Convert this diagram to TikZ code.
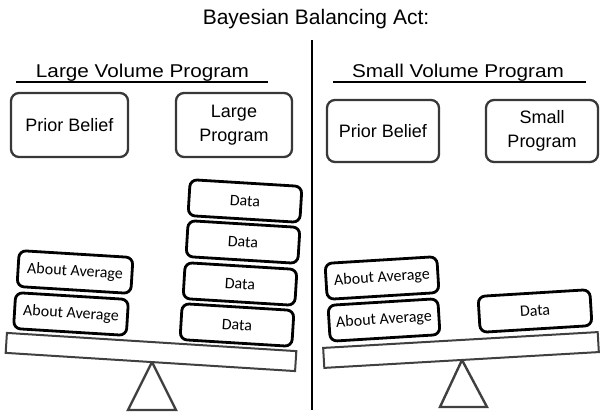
\documentclass[tikz,border=0pt]{standalone}
\usepackage{fontspec}
\setmainfont{Liberation Sans}
\newfontfamily\calib{Carlito}
\newfontfamily\headfont[FakeStretch=1.12]{Liberation Sans}
\tikzset{tb/.append style={draw=black!78, line width=2.3pt, rounded corners=8pt, align=center, font=\fontsize{18}{24}\selectfont, inner sep=0pt},
         wb/.append style={draw=black, line width=2.8pt, rounded corners=7pt, minimum width=112pt, minimum height=36pt, font=\calib\fontsize{16}{19}\selectfont, inner sep=0pt, fill=white},
         bm/.append style={draw=black!75, line width=2pt, minimum height=20pt, inner sep=0pt, fill=white},
         fl/.append style={draw=black!75, line width=2.4pt, line join=miter}}

\begin{document}
\begin{tikzpicture}[x=1pt,y=-1pt]
                \useasboundingbox (0,0) rectangle (600,414);
                % title and divider
                \node[anchor=base, font=\fontsize{21}{25}\selectfont] (title) at (316,25) {Bayesian Balancing Act:};
                \draw[line width=1.6pt] (312,40) -- (312,410);
                % headings
                \node[anchor=base, font=\headfont\fontsize{18.5}{22}\selectfont] (lvp) at (142.5,78) {Large Volume Program};
                \node[anchor=base, font=\headfont\fontsize{18.5}{22}\selectfont] (svp) at (458,78) {Small Volume Program};
                \draw[line width=1.4pt] (16,82) -- (268,82);
                \draw[line width=1.4pt] (333,82) -- (586,82);
                % top boxes
                \node[tb, minimum width=117pt, minimum height=64pt] (pbl) at (69.5,125) {Prior Belief};
                \node[tb, minimum width=116pt, minimum height=64pt] (lp) at (234,125) {Large\\Program};
                \node[tb, minimum width=112pt, minimum height=62pt] (pbr) at (383,131) {Prior Belief};
                \node[tb, minimum width=112pt, minimum height=62pt] (sp) at (542,131) {Small\\Program};
                % left balance
                \draw[fl] (152,362) -- (176,410) -- (128,410) -- cycle;
                \node[bm, minimum width=290pt, rotate=-3.6] (beaml) at (151,352) {};
                \node[wb, rotate=-3.5, minimum width=113pt] (aal) at (71,314) {About Average};
                \node[wb, rotate=-3.5, minimum width=114pt] (aau) at (75,272) {About Average};
                \node[wb, rotate=-3.5] (da) at (237,325) {Data};
                \node[wb, rotate=-3.5] (db) at (240,284) {Data};
                \node[wb, rotate=-3.5] (dc) at (243,242) {Data};
                \node[wb, rotate=-3.5] (dd) at (245,201) {Data};
                % right balance
                \draw[fl] (462,360) -- (487,407) -- (440,407) -- cycle;
                \node[bm, minimum width=275pt, rotate=3.3] (beamr) at (461,350) {};
                \node[wb, rotate=3.5, minimum width=110pt] (aarl) at (384,320) {About Average};
                \node[wb, rotate=3.5, minimum width=112pt] (aaru) at (382,278) {About Average};
                \node[wb, rotate=3.5, minimum width=112pt] (dr) at (535,311) {Data};
            \end{tikzpicture}
\end{document}
